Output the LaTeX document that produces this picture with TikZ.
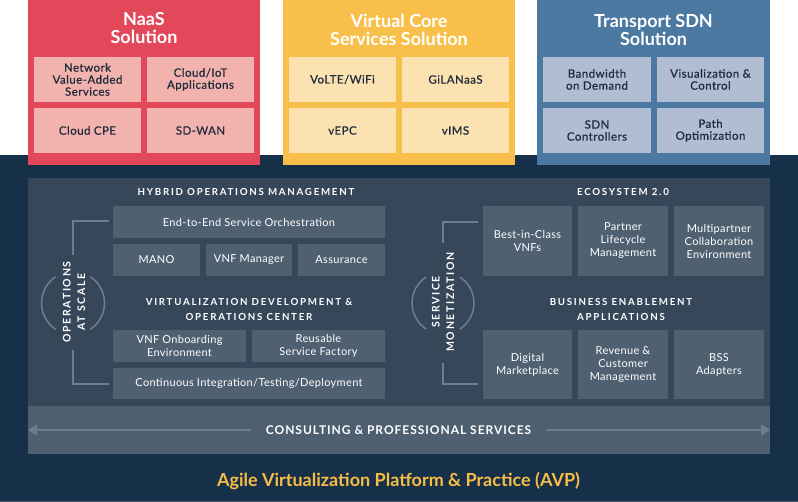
\documentclass[tikz,border=0pt]{standalone}
\usepackage{fontspec}
\setmainfont{Lato}
\newfontfamily\trkfont{Lato}[LetterSpace=18]
\newfontfamily\sidefont{Lato}[LetterSpace=16]
\newfontfamily\boxfont{Lato}[LetterSpace=3]
\newfontfamily\topfont{Lato}[LetterSpace=4,FakeBold=0.6]
\newfontfamily\consfont{Lato}[LetterSpace=8]
\usetikzlibrary{arrows.meta}
\definecolor{navy}{HTML}{17304A}
\definecolor{panel}{HTML}{37475A}
\definecolor{boxc}{HTML}{4F6071}
\definecolor{band}{HTML}{4E5F70}
\definecolor{linec}{HTML}{6C7E90}
\definecolor{redc}{HTML}{E2475A}
\definecolor{pinkc}{HTML}{F2B2AD}
\definecolor{yelc}{HTML}{F8BF4A}
\definecolor{lyelc}{HTML}{FCE2B0}
\definecolor{bluec}{HTML}{4B79A1}
\definecolor{lbluec}{HTML}{B0BDD3}
\definecolor{darktxt}{HTML}{1E2B3C}
\definecolor{orangec}{HTML}{F8BD45}
\begin{document}
\begin{tikzpicture}[x=1pt,y=-1pt,
  bg/.style={inner sep=0pt, outer sep=0pt, draw=none},
  ttl/.style={text=white, align=center, inner sep=0pt, font=\fontsize{18}{18}\selectfont\bfseries},
  topbox/.style={bg, text=darktxt, align=center, font=\fontsize{11.5}{12}\selectfont\topfont},
  midbox/.style={bg, fill=boxc, text=white, align=center, font=\fontsize{11}{13}\selectfont\boxfont},
  head/.style={text=white, align=center, inner sep=0pt, font=\fontsize{9.7}{15}\selectfont\trkfont\bfseries},
  side/.style={text=white, align=center, inner sep=0pt, rotate=90, font=\fontsize{10.5}{14.5}\selectfont\sidefont\bfseries},
  brk/.style={draw=linec, line width=1.5pt},
  arrline/.style={draw=linec, line width=1.8pt, -{Triangle[length=9pt,width=11pt]}}
]
\useasboundingbox (0,0) rectangle (798,502);
\fill[white] (0,0) rectangle (798,155);
\fill[navy] (0,155) rectangle (798,502);
\draw[band, line width=1pt] (0,501.5) -- (798,501.5);

% top panels
\node[bg, fill=redc, minimum width=232, minimum height=165] (naas) at (144,82.5) {};
\node[ttl] (naast) at (144,28) {NaaS\\Solution};
\node[topbox, fill=pinkc, minimum width=107, minimum height=45] (nva) at (87.5,79.5) {Network\\Value-Added\\Services};
\node[topbox, fill=pinkc, minimum width=107, minimum height=45] (iot) at (200.5,79.5) {Cloud/IoT\\Applications};
\node[topbox, fill=pinkc, minimum width=107, minimum height=45] (cpe) at (87.5,130.5) {Cloud CPE};
\node[topbox, fill=pinkc, minimum width=107, minimum height=45] (sdwan) at (200.5,130.5) {SD-WAN};

\node[bg, fill=yelc, minimum width=232, minimum height=165] (vcs) at (399,82.5) {};
\node[ttl] (vcst) at (399,30) {Virtual Core\\Services Solution};
\node[topbox, fill=lyelc, minimum width=107, minimum height=45] (volte) at (342.5,79.5) {VoLTE/WiFi};
\node[topbox, fill=lyelc, minimum width=107, minimum height=45] (gilan) at (455.5,79.5) {GiLANaaS};
\node[topbox, fill=lyelc, minimum width=107, minimum height=45] (vepc) at (342.5,130.5) {vEPC};
\node[topbox, fill=lyelc, minimum width=107, minimum height=45] (vims) at (455.5,130.5) {vIMS};

\node[bg, fill=bluec, minimum width=233, minimum height=165] (tsdn) at (653.5,82.5) {};
\node[ttl] (tsdnt) at (653.5,30) {Transport SDN\\Solution};
\node[topbox, fill=lbluec, minimum width=108, minimum height=45] (bod) at (597,79.5) {Bandwidth\\on Demand};
\node[topbox, fill=lbluec, minimum width=107, minimum height=45] (vis) at (710.5,79.5) {Visualization \&\\Control};
\node[topbox, fill=lbluec, minimum width=108, minimum height=45] (sdnc) at (597,130.5) {SDN\\Controllers};
\node[topbox, fill=lbluec, minimum width=107, minimum height=45] (path) at (710.5,130.5) {Path\\Optimization};

% platform
\node[bg, fill=panel, minimum width=742, minimum height=228] (plat) at (399,292) {};
\node[bg, fill=band, minimum width=742, minimum height=48] (cband) at (399,430) {};

% left side
\node[head] (hom) at (246,192) {HYBRID OPERATIONS MANAGEMENT};
\node[midbox, minimum width=272, minimum height=32] (e2e) at (249,222) {End-to-End Service Orchestration};
\node[midbox, minimum width=87, minimum height=32] (mano) at (156.5,260) {MANO};
\node[midbox, minimum width=86, minimum height=32] (vnfm) at (249,260) {VNF Manager};
\node[midbox, minimum width=87, minimum height=32] (assur) at (341.5,260) {Assurance};
\node[head] (vdoc) at (249,309.5) {VIRTUALIZATION DEVELOPMENT \&\\OPERATIONS CENTER};
\node[midbox, minimum width=133, minimum height=32] (onb) at (179.5,346) {VNF Onboarding\\Environment};
\node[midbox, minimum width=133, minimum height=32] (reuse) at (318.5,346) {Reusable\\Service Factory};
\node[midbox, minimum width=272, minimum height=31] (ci) at (249,383.5) {Continuous Integration/Testing/Deployment};

% right side
\node[head] (eco) at (623,192) {ECOSYSTEM 2.0};
\node[midbox, minimum width=89, minimum height=70] (best) at (527.5,241) {Best-in-Class\\VNFs};
\node[midbox, minimum width=90, minimum height=70] (plm) at (623,241) {Partner\\Lifecycle\\Management};
\node[midbox, minimum width=90, minimum height=70] (multi) at (719,241) {Multipartner\\Collaboration\\Environment};
\node[head] (bea) at (621,309.5) {BUSINESS ENABLEMENT\\APPLICATIONS};
\node[midbox, minimum width=89, minimum height=69] (dm) at (527.5,364.5) {Digital\\Marketplace};
\node[midbox, minimum width=90, minimum height=69] (rev) at (623,364.5) {Revenue \&\\Customer\\Management};
\node[midbox, minimum width=90, minimum height=69] (bss) at (719,364.5) {BSS\\Adapters};

% left bracket
\coordinate (lt1) at (109,221); \coordinate (lt2) at (73,221); \coordinate (lt3) at (73,255);
\coordinate (lb1) at (73,350); \coordinate (lb2) at (73,384); \coordinate (lb3) at (109,384);
\coordinate (lc) at (73,303);
\draw[brk] (lt1) -- (lt2) -- (lt3);
\draw[brk] (lb1) -- (lb2) -- (lb3);
\draw[brk] (lc) ++(123:31.5) arc (123:237:31.5);
\draw[brk] (lc) ++(-57:31.5) arc (-57:57:31.5);
\node[side] (ops) at (74,302) {OPERATIONS\\AT SCALE};

% right bracket
\coordinate (rt1) at (478,222); \coordinate (rt2) at (443,222); \coordinate (rt3) at (443,243);
\coordinate (rb1) at (443,363); \coordinate (rb2) at (443,384); \coordinate (rb3) at (478,384);
\coordinate (rc) at (443,303);
\draw[brk] (rt1) -- (rt2) -- (rt3);
\draw[brk] (rb1) -- (rb2) -- (rb3);
\draw[brk] (rc) ++(123:31) arc (123:237:31);
\draw[brk] (rc) ++(-57:31) arc (-57:57:31);
\node[side] (sm) at (443,302) {SERVICE\\MONETIZATION};

% consulting
\node[text=white, inner sep=0pt, font=\fontsize{12}{13}\selectfont\consfont\bfseries] (cons) at (398.5,430) {CONSULTING \& PROFESSIONAL SERVICES};
\coordinate (cl) at (28,430);
\coordinate (cr) at (770,430);
\draw[arrline, shorten <=15pt] (cons.west) -- (cl);
\draw[arrline, shorten <=15pt] (cons.east) -- (cr);

\node[text=orangec, inner sep=0pt, font=\fontsize{18}{20}\selectfont\bfseries] (avp) at (398.5,481) {Agile Virtualization Platform \& Practice (AVP)};
\end{tikzpicture}
\end{document}
